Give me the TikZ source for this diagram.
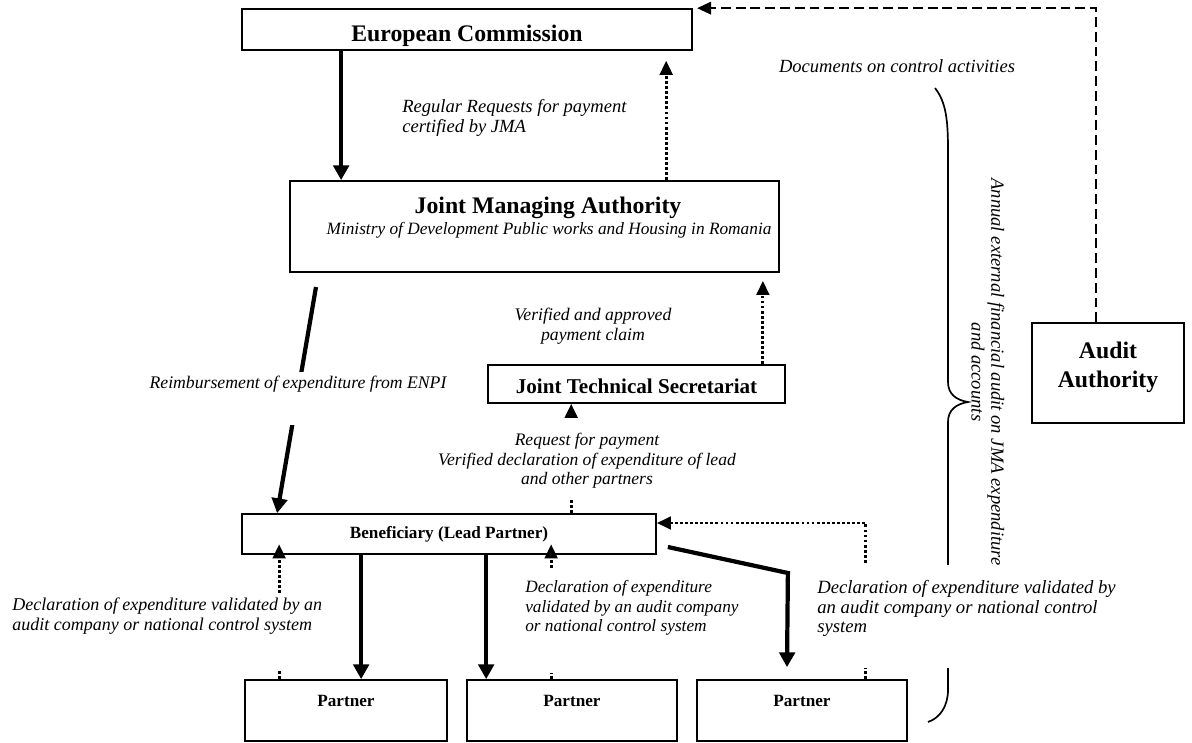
\documentclass[tikz,border=0pt]{standalone}
\usepackage{fontspec}
\setmainfont{Liberation Serif}
\usetikzlibrary{arrows.meta}

\tikzset{
  box/.style={draw, line width=1.2pt, inner sep=0pt},
  bigtitle/.style={font=\fontsize{16.9}{20.6}\selectfont\bfseries},
  midtitle/.style={font=\fontsize{15}{18}\selectfont\bfseries},
  smalltitle/.style={font=\fontsize{12.2}{14}\selectfont\bfseries},
  note/.style={font=\fontsize{#1}{14.1}\selectfont\itshape, inner sep=0pt},
  note/.default=13.2,
  bigarrow/.style={line width=3pt, -{Triangle[width=11pt,length=10.5pt]}},
  dotarrow/.style={line width=2pt, dash pattern=on 2pt off 1.6pt, -{Triangle[width=9pt,length=10pt]}},
  dasharrow/.style={line width=1.3pt, dash pattern=on 7pt off 3.5pt, -{Triangle[width=9pt,length=10pt]}},
}

\begin{document}
\begin{tikzpicture}[x=0.025cm, y=-0.025cm]
\useasboundingbox (0,0) rectangle (1192,743);

% boxes
\node[box, bigtitle, minimum width=11.25cm, text height=0.8cm, text depth=0.225cm] (ec) at (467,29.5) {European Commission};
\node[box, minimum width=12.225cm, minimum height=2.275cm] (jma) at (534.5,226.5) {};
\node[bigtitle, anchor=base] (jmaname) at (548,213) {Joint Managing Authority};
\node[note=12.3, anchor=base] (jmasub) at (549,234) {Ministry of Development Public works and Housing in Romania};
\node[box, midtitle, minimum width=7.425cm, text height=0.7cm, text depth=0.25cm] (jts) at (636.5,384) {Joint Technical Secretariat};
\node[box, minimum width=3.8cm, minimum height=2.5cm] (aa) at (1108,373) {};
\node[bigtitle, anchor=north, align=center] (aaname) at (1108,337) {Audit\\Authority};
\node[box, smalltitle, minimum width=10.35cm, text height=0.6cm, text depth=0.4cm] (ben) at (449,534) {Beneficiary (Lead Partner)};
\node[box, smalltitle, minimum width=5.05cm, text height=0.65cm, text depth=0.875cm] (p1) at (346,710.5) {Partner};
\node[box, smalltitle, minimum width=5.25cm, text height=0.65cm, text depth=0.875cm] (p2) at (572,710.5) {Partner};
\node[box, smalltitle, minimum width=5.25cm, text height=0.65cm, text depth=0.875cm] (p3) at (802,710.5) {Partner};

% points on the box edges
\coordinate (c1) at ([xshift=2.5cm]ec.south west);
\coordinate (c2) at ([xshift=9.425cm]jma.north west);
\coordinate (c3) at ([xshift=-0.575cm]jts.north east);
\coordinate (c4) at (316,287);
\coordinate (c5) at ([xshift=0.9cm]ben.north west);
\coordinate (c6) at ([xshift=8.25cm]ben.north west);
\coordinate (c7) at ([xshift=3cm]ben.south west);
\coordinate (c8) at ([xshift=6.125cm]ben.south west);
\coordinate (c9) at ([xshift=0.875cm]p1.north west);
\coordinate (c10) at ([xshift=2.125cm]p2.north west);
\coordinate (c11) at ([xshift=-1.05cm]p3.north east);
\coordinate (c12) at ([yshift=0.275cm]ben.east);
\coordinate (c13) at ([xshift=-0.3cm]aa.north);

% connectors
\draw[bigarrow] (c1) -- (c1 |- jma.north);
\draw[dotarrow, shorten >=7pt] (c2) -- (c2 |- ec.south);
\draw[dotarrow, shorten >=5.7pt] (c3) -- (c3 |- jma.south);
\draw[bigarrow] (c4) -- (c5);
\draw[dotarrow] (c6) -- (c6 |- jts.south);
\draw[bigarrow] (c7) -- (c7 |- p1.north);
\draw[bigarrow] (c8) -- (c8 |- p2.north);
\draw[bigarrow] ([xshift=0.275cm,yshift=-0.325cm]ben.east) -- ++(120,26) -- ([xshift=-0.375cm,yshift=0.3cm]p3.north);
\draw[dotarrow, shorten >=-7.5pt] (c9) -- (c9 |- ben.south);
\draw[dotarrow, shorten >=-7.5pt] (c10) -- (c10 |- ben.south);
\draw[dotarrow] (c11) |- (c12);
\draw[dasharrow, shorten >=3pt] (c13) |- (ec.north east);

% brace
\draw[line width=1.2pt] (935,88) .. controls (946,102) and (948,120) .. (948,150) -- (948,382)
  .. controls (948,394) and (956,400) .. (968,402) .. controls (956,404) and (948,410) .. (948,422)
  -- (948,690) .. controls (948,706) and (940,718) .. (928,722);

% labels
\node[note, anchor=north west, align=left] (regreq) at (402,99) {Regular Requests for payment\\certified by JMA};
\node[note=12.6, anchor=north, align=center] (verif) at (593,308) {Verified and approved\\payment claim};
\node[note=12.6, fill=white, anchor=base, text height=0.4cm, text depth=0.925cm] (reimb) at (298,388) {Reimbursement of expenditure from ENPI};
\node[note=12.5, fill=white, anchor=north, align=center] (req) at (587,418)
  {\rule{0pt}{0.675cm}Request for payment\\Verified declaration of expenditure of lead\\and other partners\rule[-0.375cm]{0pt}{0pt}};
\node[note=12.8, fill=white, anchor=north west, align=left] (decl1) at (12,593)
  {\rule{0pt}{0.425cm}Declaration of expenditure validated by an\\audit company or national control system\rule[-1.025cm]{0pt}{0pt}};
\node[note=12.3, fill=white, anchor=north west, align=left] (decl2) at (525,568)
  {\rule{0pt}{0.6cm}Declaration of expenditure\\validated by an audit company\\or national control system\rule[-1.025cm]{0pt}{0pt}};
\node[note=13.3, fill=white, anchor=north west, align=left] (decl3) at (817,565)
  {\rule{0pt}{0.7cm}Declaration of expenditure validated by\\an audit company or national control\\system\rule[-0.875cm]{0pt}{0pt}};
\node[note, anchor=base] (docs) at (897,72) {Documents on control activities};
\node[note, rotate=-90, align=center] (annual) at (988,372) {Annual external financial audit on JMA expenditure\\and accounts};
\end{tikzpicture}
\end{document}
